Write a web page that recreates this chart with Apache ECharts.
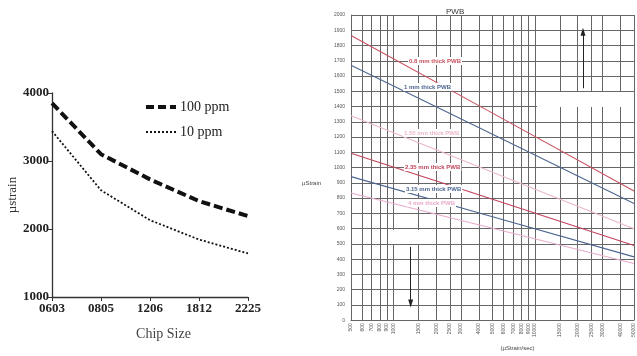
<!DOCTYPE html>
<html>
<head>
<meta charset="utf-8">
<script src="https://cdn.jsdelivr.net/npm/echarts@6/dist/echarts.min.js"></script>
<style>
  html, body { margin: 0; padding: 0; background: #fff; }
  #chart { width: 637px; height: 356px; }
</style>
</head>
<body>
<div id="chart"></div>
<script>
// left chart: strain vs chip size
const chipSizes = ['0603', '0805', '1206', '1812', '2225'];
const ppm100 = [3850, 3100, 2730, 2410, 2190];
const ppm10 = [3440, 2570, 2130, 1845, 1640];

// right chart: PWB strain vs strain rate (log x)
const rateTicks = [500, 600, 700, 800, 900, 1000, 1500, 2000, 2500, 3000, 4000, 5000,
    6000, 7000, 8000, 9000, 10000, 15000, 20000, 25000, 30000, 40000, 50000];
const rates = [500, 5000, 50000];
const pwb08 = [1865, 1357, 846];
const pwb10 = [1670, 1218, 765];
const pwb155 = [1340, 970, 600];
const pwb235 = [1094, 792, 490];
const pwb315 = [941, 678, 415];
const pwb40 = [833, 603, 372];

const pwbNames = ['0.8 mm thick PWB', '1 mm thick PWB', '1.55 mm thick PWB',
    '2.35 mm thick PWB', '3.15 mm thick PWB', '4 mm thick PWB'];
const pwbColors = ['#c9505f', '#4d6690', '#ecb6cb', '#c2435a', '#4b6591', '#e8aacb'];
const pwbData = [pwb08, pwb10, pwb155, pwb235, pwb315, pwb40];

const serif = '"Liberation Serif", "DejaVu Serif", serif';
const sans = '"Liberation Sans", Arial, sans-serif';

const chart = echarts.init(document.getElementById('chart'));

const pairs = (vals) => rates.map((r, i) => [r, vals[i]]);
const plain = (v) => String(Math.round(v));

const pwbSeries = pwbData.map((vals, i) => ({
    name: pwbNames[i],
    type: 'line',
    xAxisIndex: 1,
    yAxisIndex: 1,
    data: pairs(vals),
    symbol: 'none',
    silent: true,
    lineStyle: { color: pwbColors[i], width: 1.1 },
    z: 3
}));

// arrows on the PWB chart
pwbSeries[0].markLine = {
    silent: true,
    symbol: ['none', 'triangle'],
    symbolSize: [5, 8],
    label: { show: false },
    lineStyle: { color: '#222', width: 1, type: 'solid' },
    data: [
        [{ coord: [21800, 1520] }, { coord: [21800, 1890] }],
        [{ coord: [1320, 480] }, { coord: [1320, 110] }]
    ]
};

// label positions next to lines (px)
const labelPos = [[408, 61], [403, 87], [403, 133], [404, 167], [405, 189], [407, 203]];

const option = {
    backgroundColor: '#fff',
    animation: false,
    title: {
        text: 'PWB',
        left: 441,
        top: 3,
        textStyle: { fontFamily: sans, fontSize: 8, fontWeight: 'normal', color: '#333' }
    },
    legend: {
        orient: 'vertical',
        left: 144,
        top: 100,
        itemGap: 11,
        itemWidth: 30,
        itemHeight: 14,
        padding: 0,
        itemStyle: { opacity: 0 },
        data: [
            { name: '100 ppm', lineStyle: { width: 4, type: [8, 4] } },
            { name: '10 ppm', lineStyle: { width: 2, type: [2, 2] } }
        ],
        textStyle: { fontFamily: serif, fontSize: 14, color: '#222', padding: [0, 0, 0, -1] }
    },
    grid: [
        { left: 52, top: 93, right: 389, bottom: 59 },
        { left: 351, top: 15, right: 3, bottom: 35 }
    ],
    xAxis: [
        {
            type: 'category',
            gridIndex: 0,
            data: chipSizes,
            boundaryGap: false,
            name: 'Chip Size',
            nameLocation: 'middle',
            nameGap: 30,
            nameTextStyle: { fontFamily: serif, fontSize: 14, color: '#444', padding: [0, 0, 0, 27] },
            axisLine: { lineStyle: { color: '#333', width: 1.3 } },
            axisTick: { alignWithLabel: true, length: 4, lineStyle: { color: '#333' } },
            axisLabel: { fontFamily: serif, fontSize: 13, fontWeight: 'bold', color: '#222', margin: 5 }
        },
        {
            type: 'log',
            gridIndex: 1,
            logBase: 10,
            min: 500,
            max: 50000,
            name: '(µStrain/sec)',
            nameLocation: 'middle',
            nameGap: 24,
            nameTextStyle: { fontFamily: sans, fontSize: 6, color: '#444', padding: [0, 0, 0, 50] },
            axisLine: { lineStyle: { color: '#666', width: 1 } },
            axisTick: { show: false, customValues: rateTicks },
            axisLabel: {
                customValues: rateTicks,
                rotate: 90,
                fontFamily: sans,
                fontSize: 5,
                color: '#555',
                margin: 3,
                formatter: plain
            },
            splitLine: { show: true, lineStyle: { color: '#666', width: 1 } }
        }
    ],
    yAxis: [
        {
            type: 'value',
            gridIndex: 0,
            min: 1000,
            max: 4000,
            interval: 1000,
            name: 'µstrain',
            nameLocation: 'middle',
            nameGap: 30,
            nameTextStyle: { fontFamily: serif, fontSize: 13, color: '#333' },
            axisLine: { show: true, lineStyle: { color: '#333', width: 1.3 } },
            axisTick: { show: true, length: 4, lineStyle: { color: '#333' } },
            axisLabel: { fontFamily: serif, fontSize: 13, fontWeight: 'bold', color: '#222', margin: 3, formatter: plain },
            splitLine: { show: false }
        },
        {
            type: 'value',
            gridIndex: 1,
            min: 0,
            max: 2000,
            interval: 100,
            axisLine: { show: true, lineStyle: { color: '#666', width: 1 } },
            axisTick: { show: false },
            axisLabel: { fontFamily: sans, fontSize: 5, color: '#555', margin: 6, formatter: plain },
            splitLine: { show: true, lineStyle: { color: '#666', width: 1 } }
        }
    ],
    series: [
        {
            name: '100 ppm',
            type: 'line',
            xAxisIndex: 0,
            yAxisIndex: 0,
            data: ppm100,
            symbol: 'none',
            lineStyle: { color: '#111', width: 4, type: [9, 4] },
            itemStyle: { color: '#111' }
        },
        {
            name: '10 ppm',
            type: 'line',
            xAxisIndex: 0,
            yAxisIndex: 0,
            data: ppm10,
            symbol: 'none',
            lineStyle: { color: '#111', width: 1.8, type: [2, 2] },
            itemStyle: { color: '#111' }
        }
    ].concat(pwbSeries),
    graphic: [
        // blank patches present in the source image
        { type: 'rect', shape: { x: 537, y: 92, width: 97, height: 15 }, style: { fill: '#fff' }, z: 50 },
        { type: 'rect', shape: { x: 388, y: 230, width: 45, height: 14 }, style: { fill: '#fff' }, z: 50 },
        {
            type: 'text', left: 302, top: 180, z: 60,
            style: { text: 'µStrain', font: '6px ' + sans, fill: '#444' }
        }
    ].concat(pwbNames.map((n, i) => ({
        type: 'text',
        x: labelPos[i][0],
        y: labelPos[i][1],
        z: 60,
        style: {
            text: n,
            font: 'bold 6px ' + sans,
            fill: pwbColors[i],
            verticalAlign: 'middle',
            backgroundColor: '#fff',
            padding: [1, 1]
        }
    })))
};

chart.setOption(option);
</script>
</body>
</html>
